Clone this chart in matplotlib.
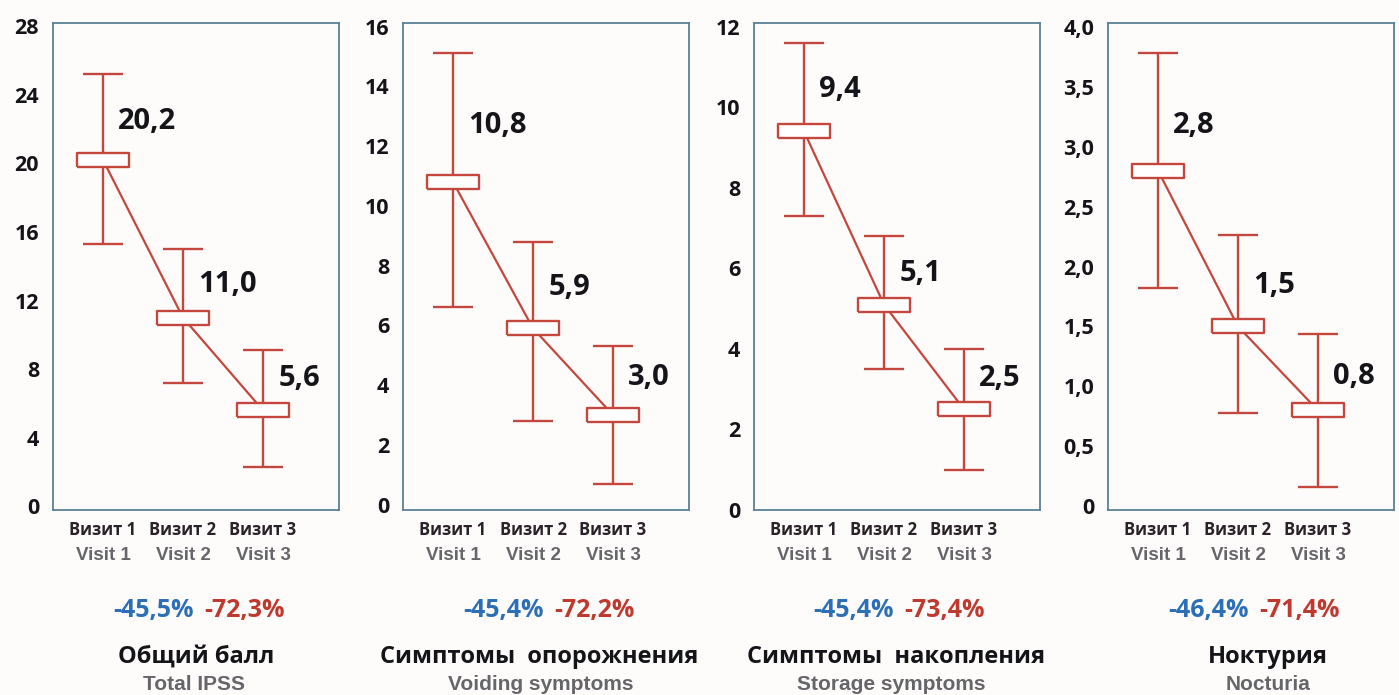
import matplotlib
matplotlib.use("Agg")
import matplotlib.pyplot as plt

W, H = 1399, 695

visits_ru = ["Визит 1", "Визит 2", "Визит 3"]
visits_en = ["Visit 1", "Visit 2", "Visit 3"]

titles_ru = ["Общий балл", "Симптомы  опорожнения", "Симптомы  накопления", "Ноктурия"]
titles_en = ["Total IPSS", "Voiding symptoms", "Storage symptoms", "Nocturia"]

# mean values and whisker ends per panel
means = [[20.2, 11.0, 5.6], [10.8, 5.9, 3.0], [9.4, 5.1, 2.5], [2.8, 1.5, 0.8]]
highs = [[25.2, 15.0, 9.1], [15.1, 8.8, 5.3], [11.6, 6.8, 4.0], [3.78, 2.26, 1.44]]
lows = [[15.3, 7.2, 2.3], [6.6, 2.8, 0.7], [7.3, 3.5, 1.0], [1.82, 0.78, 0.16]]
mean_labels = [["20,2", "11,0", "5,6"], ["10,8", "5,9", "3,0"],
               ["9,4", "5,1", "2,5"], ["2,8", "1,5", "0,8"]]

change_v2 = ["-45,5%", "-45,4%", "-45,4%", "-46,4%"]
change_v3 = ["-72,3%", "-72,2%", "-73,4%", "-71,4%"]

yticks = [[0, 4, 8, 12, 16, 20, 24, 28],
          [0, 2, 4, 6, 8, 10, 12, 14, 16],
          [0, 2, 4, 6, 8, 10, 12],
          [0, 0.5, 1.0, 1.5, 2.0, 2.5, 3.0, 3.5, 4.0]]
ytick_labels = [["0", "4", "8", "12", "16", "20", "24", "28"],
                ["0", "2", "4", "6", "8", "10", "12", "14", "16"],
                ["0", "2", "4", "6", "8", "10", "12"],
                ["0", "0,5", "1,0", "1,5", "2,0", "2,5", "3,0", "3,5", "4,0"]]

# layout (pixels)
ylims = [(-0.21, 28.18), (-0.18, 16.12), (0, 12.09), (-0.03, 4.03)]
frame_left = [53, 403, 754, 1108]
frame_w = 286
frame_top, frame_bot = 23, 510
pct_mid = [199, 549, 899, 1254]
title_x = [196, 539, 896, 1268]
sub_x = [194, 541, 891, 1268]
label_off = [[38, 33, 32], [56, 41, 37], [42, 31, 31], [45, 41, 34]]

RED = "#c3473d"
FRAME = "#5a8296"
BLUE = "#2c6fb6"
PCT_RED = "#c0392f"
GRAY = "#66666a"
DARK = "#141419"

box = [(-1, -0.27), (1, -0.27), (1, 0.27), (-1, 0.27), (-1, -0.27)]

fig = plt.figure(figsize=(W / 100, H / 100), dpi=100)
fig.patch.set_facecolor("#fdfcfb")

x = [1, 2, 3]
for i in range(4):
    ax = fig.add_axes([frame_left[i] / W, 1 - frame_bot / H,
                       frame_w / W, (frame_bot - frame_top) / H])
    ax.set_facecolor("#fdfcfb")
    m, hi, lo = means[i], highs[i], lows[i]
    yerr = [[m[k] - lo[k] for k in range(3)], [hi[k] - m[k] for k in range(3)]]
    ax.errorbar(x, m, yerr=yerr, fmt="none", ecolor=RED, elinewidth=1.7,
                capsize=14.5, capthick=1.7, zorder=2)
    ax.plot(x, m, "-", color=RED, lw=1.6, zorder=2)
    ax.plot(x, m, ls="none", marker=box, markersize=37.5, mfc="white",
            mec=RED, mew=1.7, zorder=3)
    for k in range(3):
        ax.annotate(mean_labels[i][k], xy=(x[k], m[k]),
                    xytext=(11, label_off[i][k] * 0.72), textcoords="offset points",
                    ha="left", va="center", fontsize=21, fontweight="bold",
                    family="Open Sans", color=DARK)
    ax.set_xlim(0.375, 3.95)
    ax.set_ylim(*ylims[i])
    ax.set_yticks(yticks[i])
    ax.set_yticklabels(ytick_labels[i], fontsize=15.5, fontweight="bold",
                       family="Open Sans", color=DARK)
    ax.set_xticks(x)
    ax.set_xticklabels(visits_ru, fontsize=12, fontweight="bold",
                       family="Open Sans", color="#2a2228")
    ax.tick_params(axis="y", length=0, pad=10)
    ax.tick_params(axis="x", length=0, pad=8)
    for s in ax.spines.values():
        s.set_color(FRAME)
        s.set_linewidth(1.3)
    for k in range(3):
        ax.annotate(visits_en[k], xy=(x[k], 0), xycoords=("data", "axes fraction"),
                    xytext=(0, -45 * 0.72), textcoords="offset points",
                    ha="center", va="center", fontsize=13.5, fontweight="bold",
                    family="Liberation Sans", color=GRAY)

    fig.text((pct_mid[i] - 5) / W, 1 - 610 / H, change_v2[i], ha="right", va="center",
             fontsize=18, fontweight="bold", family="Open Sans", color=BLUE)
    fig.text((pct_mid[i] + 5) / W, 1 - 610 / H, change_v3[i], ha="left", va="center",
             fontsize=18, fontweight="bold", family="Open Sans", color=PCT_RED)
    fig.text(title_x[i] / W, 1 - 657 / H, titles_ru[i], ha="center", va="center",
             fontsize=17, fontweight="bold", family="Open Sans", color=DARK)
    fig.text(sub_x[i] / W, 1 - 685 / H, titles_en[i], ha="center", va="center",
             fontsize=15, fontweight="bold", family="Liberation Sans", color=GRAY)

fig.savefig("out.png", dpi=100, facecolor=fig.get_facecolor())
